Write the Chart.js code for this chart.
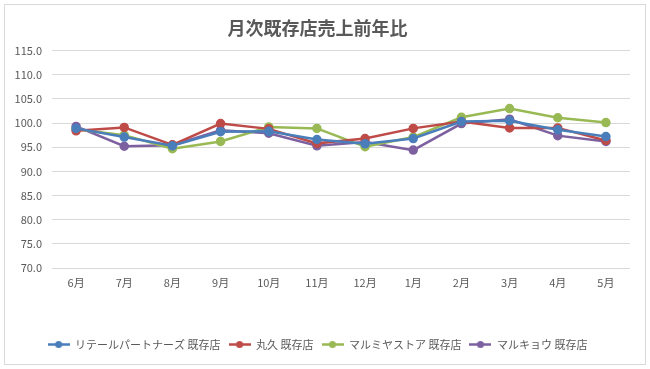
<!DOCTYPE html>
<html>
<head>
<meta charset="utf-8">
<script src="https://cdn.jsdelivr.net/npm/chart.js@4/dist/chart.umd.min.js"></script>
<style>
  html, body { margin: 0; padding: 0; background: #fff; }
  #wrap {
    position: absolute; left: 4px; top: 4px;
    width: 640px; height: 359px;
    border: 1px solid #d9d9d9;
  }
</style>
</head>
<body>
<div id="wrap"><canvas id="chart"></canvas></div>
<script>
  // months along the x axis
  var months = ['6月', '7月', '8月', '9月', '10月', '11月', '12月', '1月', '2月', '3月', '4月', '5月'];

  // series values (前年比, %)
  var retailPartners = [98.9, 97.1, 95.3, 98.2, 98.3, 96.6, 95.7, 96.8, 100.3, 100.5, 98.6, 97.2];
  var marukyu        = [98.4, 99.1, 95.5, 99.9, 98.8, 95.8, 96.8, 98.9, 100.3, 99.0, 99.0, 96.4];
  var marumiya       = [98.7, 97.5, 94.7, 96.2, 99.2, 98.9, 95.1, 97.1, 101.2, 103.0, 101.1, 100.1];
  var marukyo        = [99.3, 95.2, 95.4, 98.5, 97.9, 95.3, 96.1, 94.4, 99.9, 100.8, 97.4, 96.2];

  var seriesNames = ['リテールパートナーズ 既存店', '丸久 既存店', 'マルミヤストア 既存店', 'マルキョウ 既存店'];
  var seriesColors = ['#4a7ebb', '#be4b48', '#98b954', '#7d60a0'];

  var font = '"Noto Sans CJK JP", "Noto Sans", sans-serif';
  var textColor = '#595959';

  // legend marker: short line with a dot
  function legendMarker(color) {
    var c = document.createElement('canvas');
    c.width = 22; c.height = 9;
    var g = c.getContext('2d');
    g.strokeStyle = color;
    g.lineWidth = 2.5;
    g.beginPath(); g.moveTo(0, 4.5); g.lineTo(22, 4.5); g.stroke();
    g.fillStyle = color;
    g.beginPath(); g.arc(11, 4.5, 3.5, 0, Math.PI * 2); g.fill();
    return c;
  }

  var allValues = [retailPartners, marukyu, marumiya, marukyo];
  var datasets = allValues.map(function (vals, i) {
    return {
      label: seriesNames[i],
      data: vals,
      borderColor: seriesColors[i],
      backgroundColor: seriesColors[i],
      borderWidth: 2.5,
      pointRadius: 3.5,
      pointHoverRadius: 3.5,
      pointStyle: 'circle',
      legendStyle: legendMarker(seriesColors[i]),
      tension: 0
    };
  });

  var ctx = document.getElementById('chart').getContext('2d');
  new Chart(ctx, {
    type: 'line',
    data: { labels: months, datasets: datasets },
    options: {
      responsive: true,
      maintainAspectRatio: false,
      animation: false,
      layout: { padding: { left: 0, right: 15, top: 0, bottom: 4 } },
      plugins: {
        title: {
          display: true,
          text: '月次既存店売上前年比',
          color: textColor,
          font: { family: font, size: 18, weight: 'bold' },
          padding: { top: 12, bottom: 12 }
        },
        legend: {
          position: 'bottom',
          labels: {
            color: textColor,
            font: { family: font, size: 11 },
            usePointStyle: true,
            pointStyleWidth: 22,
            boxHeight: 9,
            padding: 8,
            generateLabels: function (chart) {
              return chart.data.datasets.map(function (d, i) {
                return {
                  text: d.label,
                  fillStyle: d.borderColor,
                  strokeStyle: d.borderColor,
                  lineWidth: 0,
                  pointStyle: d.legendStyle,
                  fontColor: textColor,
                  hidden: false,
                  datasetIndex: i
                };
              });
            }
          }
        },
        tooltip: { enabled: false }
      },
      scales: {
        x: {
          offset: true,
          grid: { display: false, drawTicks: false },
          border: { display: false },
          ticks: { color: textColor, font: { family: font, size: 11 }, padding: 8 },
          afterFit: function (s) { s.height = 63; }
        },
        y: {
          min: 70,
          max: 115,
          grid: { color: '#d9d9d9', drawTicks: false },
          border: { display: false },
          ticks: {
            stepSize: 5,
            color: textColor,
            font: { family: font, size: 11 },
            padding: 10,
            callback: function (v) { return v.toFixed(1); }
          },
          afterFit: function (s) { s.width = 47; }
        }
      }
    }
  });
</script>
</body>
</html>
